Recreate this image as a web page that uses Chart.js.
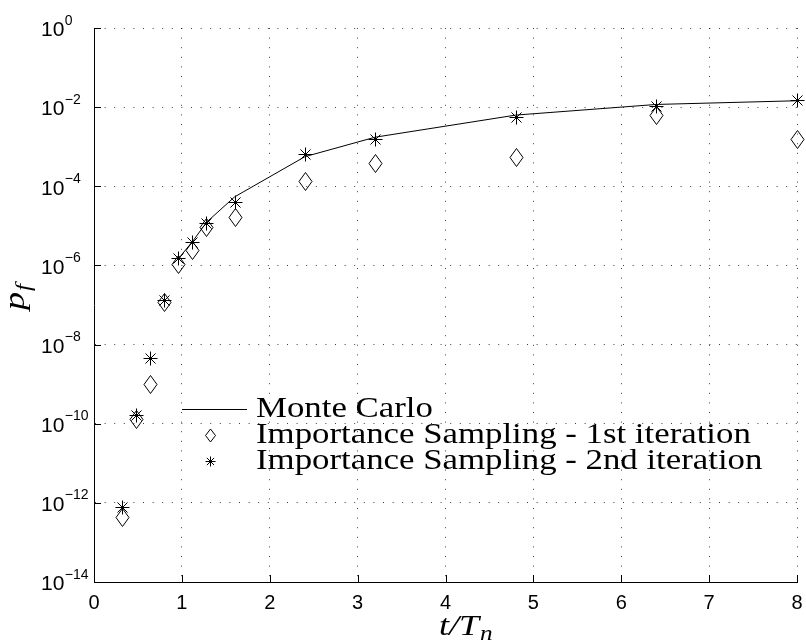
<!DOCTYPE html>
<html>
<head>
<meta charset="utf-8">
<script src="https://cdn.jsdelivr.net/npm/chart.js@4/dist/chart.umd.min.js"></script>
<style>
  html, body { margin: 0; padding: 0; background: #fff; }
  #wrap { width: 806px; height: 641px; }
</style>
</head>
<body>
<div id="wrap"><canvas id="c" width="806" height="641"></canvas></div>
<script>
// Failure probability p_f against normalised time t/T_n
const tRatio = [0.32, 0.48, 0.64, 0.80, 0.96, 1.12, 1.28, 1.6, 2.4, 3.2, 4.8, 6.4, 8.0];
const tMonteCarlo = [0.96, 1.12, 1.28, 1.6, 2.4, 3.2, 4.8, 6.4, 8.0];
const pfMonteCarlo = [1.48e-6, 3.98e-6, 1.23e-5, 5.4e-5, 5.6e-4, 1.74e-3, 6.3e-3, 1.17e-2, 1.45e-2];
const pfIS1 = [4.3e-13, 1.3e-10, 1.0e-9, 1.2e-7, 1.1e-6, 2.5e-6, 9.3e-6, 1.7e-5, 1.35e-4, 3.8e-4, 5.6e-4, 6.3e-3, 1.6e-3];
const pfIS2 = [7.9e-13, 1.7e-10, 4.6e-9, 1.3e-7, 1.5e-6, 3.9e-6, 1.2e-5, 3.9e-5, 6.5e-4, 1.55e-3, 5.8e-3, 1.1e-2, 1.5e-2];
const xTicks = [0, 1, 2, 3, 4, 5, 6, 7, 8];
const yExponents = [0, -2, -4, -6, -8, -10, -12, -14];
const legendLabels = ['Monte Carlo', 'Importance Sampling - 1st iteration', 'Importance Sampling - 2nd iteration'];

const SANS = '"Liberation Sans", Arial, sans-serif';
const SERIF = '"Liberation Serif", "DejaVu Serif", serif';
const SERIF_STRETCH = 1.2; // widen the serif face a little

function strokeDiamond(ctx, cx, cy, w, h) {
  ctx.beginPath();
  ctx.moveTo(cx, cy - h / 2);
  ctx.lineTo(cx + w / 2, cy);
  ctx.lineTo(cx, cy + h / 2);
  ctx.lineTo(cx - w / 2, cy);
  ctx.closePath();
  ctx.stroke();
}
function strokeAsterisk(ctx, cx, cy, r) {
  const d = r * 0.72;
  ctx.beginPath();
  ctx.moveTo(cx, cy - r); ctx.lineTo(cx, cy + r);
  ctx.moveTo(cx - r, cy); ctx.lineTo(cx + r, cy);
  ctx.moveTo(cx - d, cy - d); ctx.lineTo(cx + d, cy + d);
  ctx.moveTo(cx - d, cy + d); ctx.lineTo(cx + d, cy - d);
  ctx.stroke();
}
// serif text drawn slightly wider
function serifText(ctx, text, x, y, size, italic) {
  ctx.save();
  ctx.font = (italic ? 'italic ' : '') + size + 'px ' + SERIF;
  ctx.translate(x, y);
  ctx.scale(SERIF_STRETCH, 1);
  ctx.fillText(text, 0, 0);
  const w = ctx.measureText(text).width * SERIF_STRETCH;
  ctx.restore();
  return w;
}
function serifWidth(ctx, text, size, italic) {
  ctx.save();
  ctx.font = (italic ? 'italic ' : '') + size + 'px ' + SERIF;
  const w = ctx.measureText(text).width * SERIF_STRETCH;
  ctx.restore();
  return w;
}

// Marker shapes for the two importance-sampling series, at the points laid out by Chart.js
const markers = {
  id: 'markers',
  afterDatasetsDraw(chart) {
    const ctx = chart.ctx;
    ctx.save();
    ctx.strokeStyle = '#000';
    ctx.lineWidth = 1;
    chart.getDatasetMeta(1).data.forEach(p => {
      strokeDiamond(ctx, Math.round(p.x) + 0.5, Math.round(p.y) + 0.5, 13, 18);
    });
    chart.getDatasetMeta(2).data.forEach(p => {
      strokeAsterisk(ctx, Math.round(p.x) + 0.5, Math.round(p.y) + 0.5, 7);
    });
    ctx.restore();
  }
};

const decorations = {
  id: 'decorations',
  afterDraw(chart) {
    const ctx = chart.ctx;
    const xs = chart.scales.x, ys = chart.scales.y;
    const area = chart.chartArea;
    ctx.save();
    ctx.strokeStyle = '#000';
    ctx.lineWidth = 1;
    // inward tick marks
    ctx.beginPath();
    xTicks.forEach(v => {
      const px = Math.round(xs.getPixelForValue(v)) + 0.5;
      ctx.moveTo(px, area.bottom); ctx.lineTo(px, area.bottom - 7);
    });
    yExponents.forEach(e => {
      const py = Math.round(ys.getPixelForValue(Math.pow(10, e))) + 0.5;
      ctx.moveTo(area.left, py); ctx.lineTo(area.left + 7, py);
    });
    ctx.stroke();

    ctx.fillStyle = '#000';
    // x tick labels
    ctx.font = '20px ' + SANS;
    ctx.textAlign = 'center';
    ctx.textBaseline = 'alphabetic';
    xTicks.forEach(v => ctx.fillText(String(v), xs.getPixelForValue(v), 609));
    // y tick labels as powers of ten
    ctx.textAlign = 'left';
    yExponents.forEach(e => {
      const py = ys.getPixelForValue(Math.pow(10, e));
      ctx.font = '21px ' + SANS;
      ctx.fillText('10', 41, py + 8.3);
      const w = ctx.measureText('10').width;
      ctx.font = '14px ' + SANS;
      ctx.fillText(e === 0 ? '0' : '\u2212' + Math.abs(e), 41 + w + 0.5, py - 3.4);
    });

    // x axis title t/T_n
    const wt = serifText(ctx, 't/T', 439, 635, 30, true);
    serifText(ctx, 'n', 439 + wt + 1, 640, 21, true);

    // y axis title p_f, rotated
    ctx.save();
    ctx.translate(24, 297);
    ctx.rotate(-Math.PI / 2);
    const wp = serifWidth(ctx, 'p', 30, true);
    const wf = serifWidth(ctx, 'f', 21, true);
    const x0 = -(wp + wf + 1) / 2;
    serifText(ctx, 'p', x0, 0, 30, true);
    serifText(ctx, 'f', x0 + wp + 1, 6, 21, true);
    ctx.restore();

    // legend
    const rows = [409.5, 435.5, 461.5];
    ctx.beginPath();
    ctx.moveTo(182, rows[0]); ctx.lineTo(247, rows[0]);
    ctx.stroke();
    strokeDiamond(ctx, 210.5, rows[1], 10, 13);
    strokeAsterisk(ctx, 210.5, rows[2], 5);
    legendLabels.forEach((lab, i) => serifText(ctx, lab, 256, rows[i] + 7, 29, false));
    ctx.restore();
  }
};

new Chart(document.getElementById('c'), {
  type: 'scatter',
  data: {
    datasets: [
      {
        label: legendLabels[0],
        type: 'line',
        data: tMonteCarlo.map((t, i) => ({ x: t, y: pfMonteCarlo[i] })),
        borderColor: '#000',
        borderWidth: 1,
        pointRadius: 0,
        fill: false,
        tension: 0
      },
      {
        label: legendLabels[1],
        data: tRatio.map((t, i) => ({ x: t, y: pfIS1[i] })),
        pointRadius: 0
      },
      {
        label: legendLabels[2],
        data: tRatio.map((t, i) => ({ x: t, y: pfIS2[i] })),
        pointRadius: 0
      }
    ]
  },
  options: {
    responsive: false,
    animation: false,
    devicePixelRatio: 1,
    layout: { padding: { left: 94, top: 28, right: 9, bottom: 59 } },
    plugins: { legend: { display: false }, tooltip: { enabled: false } },
    scales: {
      x: {
        type: 'linear', min: 0, max: 8,
        ticks: { display: false, stepSize: 1 },
        grid: { color: 'rgba(0,0,0,0.75)', lineWidth: 1, drawTicks: false, tickLength: 0 },
        border: { display: true, color: '#000', width: 1, dash: [1, 8.6] }
      },
      y: {
        type: 'logarithmic', min: 1e-14, max: 1,
        afterBuildTicks: s => { s.ticks = yExponents.slice().reverse().map(e => ({ value: Math.pow(10, e) })); },
        ticks: { display: false },
        grid: { color: 'rgba(0,0,0,0.75)', lineWidth: 1, drawTicks: false, tickLength: 0 },
        border: { display: true, color: '#000', width: 1, dash: [1, 8.6] }
      }
    }
  },
  plugins: [markers, decorations]
});
</script>
</body>
</html>
